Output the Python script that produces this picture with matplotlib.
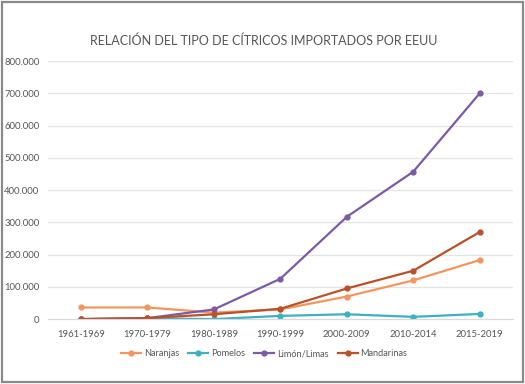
import matplotlib.pyplot as plt
from matplotlib.ticker import FuncFormatter
from matplotlib.patches import Rectangle

periodos = ['1961-1969', '1970-1979', '1980-1989', '1990-1999',
            '2000-2009', '2010-2014', '2015-2019']
naranjas = [36000, 36000, 20000, 30000, 70000, 120000, 183000]
pomelos = [0, 2000, 0, 10000, 15000, 7000, 16000]
limon_limas = [0, 3000, 30000, 125000, 317000, 457000, 700000]
mandarinas = [0, 3000, 15000, 32000, 95000, 150000, 270000]

series = [
    ('Naranjas', naranjas, '#F4955E'),
    ('Pomelos', pomelos, '#3FAFC4'),
    ('Limón/Limas', limon_limas, '#7A5CA6'),
    ('Mandarinas', mandarinas, '#B9512A'),
]

plt.rcParams['font.family'] = ['Lato', 'DejaVu Sans']
gris = '#555555'

fig = plt.figure(figsize=(5.25, 3.84), dpi=100)
fig.patches.append(Rectangle((0.003, 0.004), 0.994, 0.992, transform=fig.transFigure,
                             fill=False, edgecolor='#8a8a8a', linewidth=1.6))

ax = fig.add_axes([0.091, 0.169, 0.886, 0.672])
x = list(range(len(periodos)))
for nombre, vals, color in series:
    ax.plot(x, vals, color=color, linewidth=1.6, marker='o', markersize=3.5, label=nombre)

ax.set_xlim(-0.5, 6.5)
ax.set_ylim(0, 800000)
ax.set_yticks(range(0, 800001, 100000))
ax.yaxis.set_major_formatter(FuncFormatter(lambda v, p: f'{int(v):,}'.replace(',', '.')))
ax.set_xticks(x)
ax.set_xticklabels(periodos)
ax.grid(axis='y', color='#e3e3e3', linewidth=0.9)
ax.set_axisbelow(True)
for s in ['top', 'right', 'left']:
    ax.spines[s].set_visible(False)
ax.spines['bottom'].set_color('#d9d9d9')
ax.tick_params(axis='y', length=0, labelsize=6.8, colors=gris, pad=6)
ax.tick_params(axis='x', length=0, labelsize=6.8, colors=gris, pad=8)

fig.text(0.503, 0.895, 'RELACIÓN DEL TIPO DE CÍTRICOS IMPORTADOS POR EEUU',
         ha='center', va='center', fontsize=9, color=gris)

ax.legend(loc='upper center', bbox_to_anchor=(0.465, -0.085), ncol=4, frameon=False,
          fontsize=6.6, labelcolor=gris, handlelength=2.2, columnspacing=1.0,
          handletextpad=0.3)

fig.savefig('out.png', dpi=100)
